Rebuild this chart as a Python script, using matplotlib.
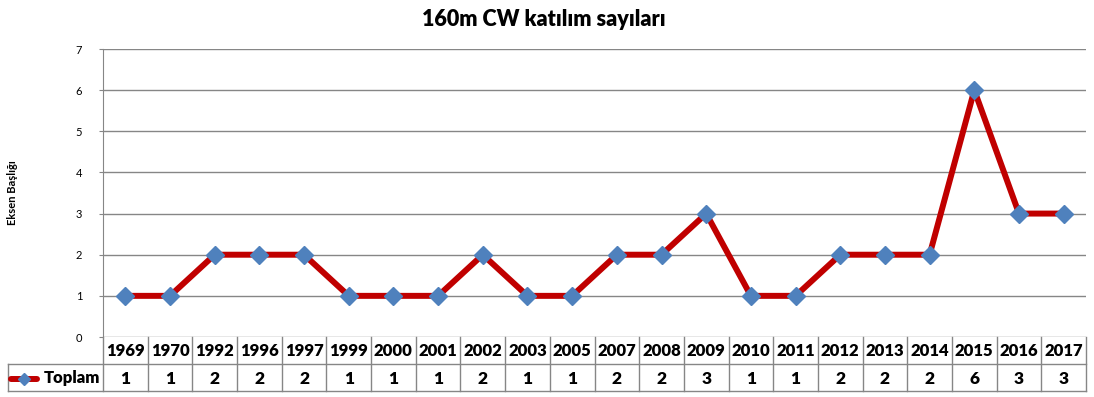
import matplotlib.pyplot as plt
import matplotlib.transforms as mtransforms
import numpy as np

years = ['1969', '1970', '1992', '1996', '1997', '1999', '2000', '2001', '2002', '2003', '2005',
         '2007', '2008', '2009', '2010', '2011', '2012', '2013', '2014', '2015', '2016', '2017']
toplam = [1, 1, 2, 2, 2, 1, 1, 1, 2, 1, 1, 2, 2, 3, 1, 1, 2, 2, 2, 6, 3, 3]
series_name = 'Toplam'

plt.rcParams['font.family'] = ['Lato', 'DejaVu Sans']

RED = '#C00000'
BLUE = '#4F81BD'
GRID = '#868686'

W, H = 1094, 397
fig = plt.figure(figsize=(W / 100, H / 100), dpi=100)
# plot area in pixels: x 103..1086, y 49..337
left, right, top, bottom = 103, 1086, 49, 337
pw, ph = right - left, bottom - top
ax = fig.add_axes([left / W, 1 - bottom / H, pw / W, ph / H])

x = np.arange(len(years))
ax.plot(x, toplam, color=RED, lw=4.3, marker='D', markersize=8.7,
        markerfacecolor=BLUE, markeredgecolor=BLUE, zorder=3)

ax.set_xlim(-0.5, len(years) - 0.5)
ax.set_ylim(0, 7)
ax.set_yticks(range(8))
ax.set_xticks([])
ax.grid(axis='y', color=GRID, lw=1)
ax.set_axisbelow(True)
for s in ['top', 'right', 'bottom']:
    ax.spines[s].set_visible(False)
ax.spines['left'].set_color(GRID)
ax.tick_params(axis='y', length=3, color=GRID, labelsize=8, pad=12)

fig.text(544 / W, 1 - 19 / H, '160m CW katılım sayıları', fontsize=15.5, fontweight='heavy',
         ha='center', va='center')
fig.text(13 / W, 1 - 193 / H, 'Eksen Başlığı', rotation=90, fontsize=8,
         fontweight='bold', ha='center', va='center')

# data table under the axis, drawn with lines and text
def yf(p):
    return (bottom - p) / ph

def xf(p):
    return (p - left) / pw

blend = mtransforms.blended_transform_factory(ax.transData, ax.transAxes)
row_mid, table_bot = 364, 391
lk = dict(color=GRID, lw=1, clip_on=False)

for b in np.arange(len(years) + 1) - 0.5:
    ax.plot([b, b], [yf(bottom), yf(table_bot)], transform=blend, **lk)
for p in (row_mid, table_bot):
    ax.plot([xf(8), 1], [yf(p), yf(p)], transform=ax.transAxes, **lk)
ax.plot([xf(8), xf(8)], [yf(row_mid), yf(table_bot)], transform=ax.transAxes, **lk)

for i, (yr, v) in enumerate(zip(years, toplam)):
    ax.text(i, yf(351), yr, transform=blend, ha='center', va='center',
            fontsize=12, fontweight='heavy')
    ax.text(i, yf(378.5), str(v), transform=blend, ha='center', va='center',
            fontsize=12.5, fontweight='heavy')

# legend key in the row label cell
ky = yf(378.5)
ax.text(xf(100), ky, series_name, transform=ax.transAxes, ha='right', va='center',
        fontsize=12, fontweight='heavy')
ax.plot([xf(11), xf(37)], [ky, ky], transform=ax.transAxes, clip_on=False,
        color=RED, lw=4.3, solid_capstyle='round')
ax.plot([xf(24)], [ky], transform=ax.transAxes, clip_on=False, marker='D',
        markersize=6, color=BLUE)

fig.savefig('out.png', dpi=100)
